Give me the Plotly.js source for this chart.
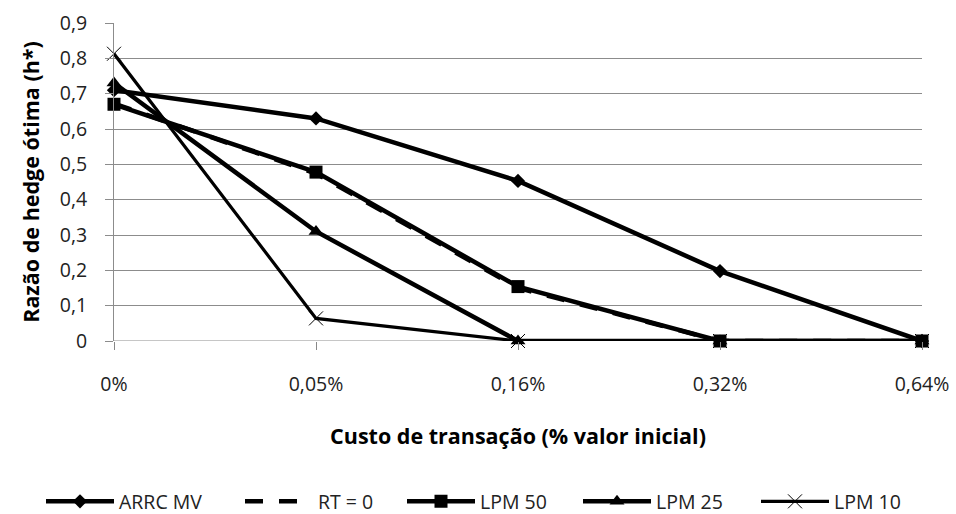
<!DOCTYPE html>
<html>
<head>
<meta charset="utf-8">
<script src="https://cdn.plot.ly/plotly-3.0.1.min.js"></script>
<style>html,body{margin:0;padding:0;background:#fff;}#chart{width:956px;height:514px;}</style>
</head>
<body>
<div id="chart"></div>
<script>
const categories = ['0%', '0,05%', '0,16%', '0,32%', '0,64%'];
const arrcMV = [0.71, 0.63, 0.453, 0.198, 0];
const rt0 = [0.672, 0.474, 0.15, 0, 0];
const lpm50 = [0.67, 0.478, 0.154, 0, 0];
const lpm25 = [0.73, 0.31, 0, 0, 0];
const lpm10 = [0.813, 0.064, 0, 0, 0];

const xIdx = categories.map((c, i) => i);
const FONT = 'Open Sans, sans-serif';
const TXT = '#222';

function tr(name, y, sym, size, width, dash, leg) {
  const t = {
    type: 'scatter', mode: sym ? 'lines+markers' : 'lines', name: name,
    x: xIdx, y: y, cliponaxis: false, legend: leg,
    line: {color: '#000', width: width, dash: dash || 'solid'}
  };
  if (sym) {
    t.marker = {symbol: sym, size: size, color: '#000', line: {color: '#000', width: sym === 'x-thin' ? 1 : 0}};
  }
  return t;
}

const data = [
  tr('ARRC MV', arrcMV, 'diamond', 11, 4.5, null, 'legend'),
  tr('RT = 0', rt0, null, 0, 4.5, '18px,16px', 'legend2'),
  tr('LPM 50', lpm50, 'square', 13, 4.5, null, 'legend3'),
  tr('LPM 25', lpm25, 'triangle-up', 13, 4.5, null, 'legend4'),
  tr('LPM 10', lpm10, 'x-thin', 14, 3.2, null, 'legend5')
];

function leg(px) {
  return {orientation: 'h', x: px / 956, xanchor: 'left', xref: 'container', y: 0.024, yref: 'container', yanchor: 'middle',
    font: {family: FONT, size: 19.5, color: TXT}, itemwidth: 68, bgcolor: 'rgba(0,0,0,0)'};
}

const layout = {
  width: 956, height: 514,
  margin: {l: 114, r: 34, t: 23, b: 173},
  paper_bgcolor: '#fff', plot_bgcolor: '#fff',
  separators: ',.',
  font: {family: FONT, size: 19.5, color: TXT},
  showlegend: true,
  legend: leg(41), legend2: leg(240), legend3: leg(402), legend4: leg(578), legend5: leg(756),
  xaxis: {
    range: [0, 4], tickmode: 'array', tickvals: xIdx, ticktext: categories,
    showgrid: false, zeroline: false, showline: false, automargin: false,
    ticks: 'outside', ticklen: 8, tickcolor: '#888', ticklabelstandoff: 18,
    tickfont: {family: FONT, size: 19.5, color: TXT},
    title: {text: '<b>Custo de transação (% valor inicial)</b>', font: {family: FONT, size: 21.5, color: '#000'}, standoff: 32}
  },
  yaxis: {
    range: [0, 0.9], dtick: 0.1, tick0: 0, automargin: false,
    showgrid: true, gridcolor: '#8c8c8c', gridwidth: 1,
    zeroline: false, showline: true, linecolor: '#8c8c8c',
    ticks: 'outside', ticklen: 8, tickcolor: '#8c8c8c', ticklabelstandoff: 14,
    tickfont: {family: FONT, size: 19.5, color: TXT},
    title: {text: '<b>Razão de hedge ótima (h*)</b>', font: {family: FONT, size: 21.5, color: '#000'}, standoff: 14}
  },
  shapes: [
    {type: 'line', xref: 'paper', yref: 'y', x0: 0, x1: 1, y0: 0, y1: 0, line: {color: '#8c8c8c', width: 1}, layer: 'below'}
  ]
};

Plotly.newPlot('chart', data, layout, {displayModeBar: false, staticPlot: true});
</script>
</body>
</html>
